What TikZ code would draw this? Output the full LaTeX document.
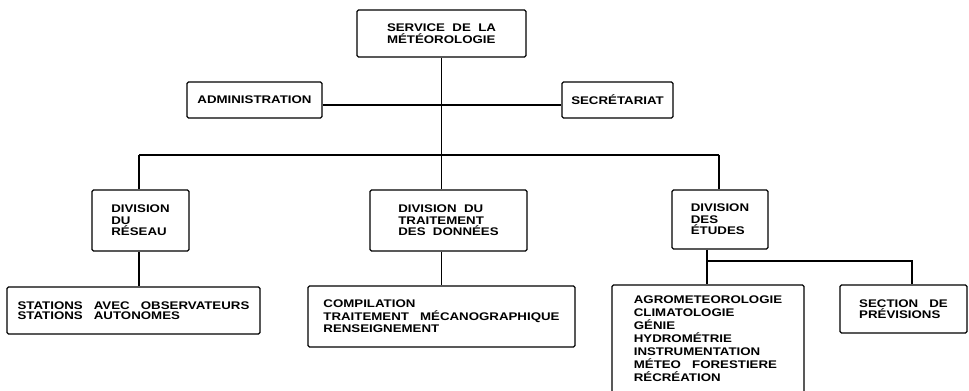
\documentclass[tikz,border=0pt]{standalone}
\usepackage{fontspec}
\newfontfamily\orgfont{Liberation Sans}[FakeStretch=1.2]
\usepackage{tikz}

\begin{document}
\begin{tikzpicture}[-,x=0.02cm,y=-0.02cm,line width=0.7pt,
	box/.style={rectangle,draw,rounded corners=0.8pt,align=left,inner sep=0pt}]
	\tikzstyle{every node}=[font=\orgfont\bfseries\fontsize{6.3}{6.6}\selectfont]
	\useasboundingbox (0,0) rectangle (969,391);
	\draw
		(441.5,33.5) node[box, minimum width=3.38cm, minimum height=0.94cm](top) {SERVICE\ \ DE\ \ LA\\MÉTÉOROLOGIE}
		(254.5,100) node[box, minimum width=2.7cm, minimum height=0.72cm](admin) {ADMINISTRATION}
		(617.5,100) node[box, minimum width=2.22cm, minimum height=0.72cm](secr) {SECRÉTARIAT}
		(140.5,220.5) node[box, minimum width=1.94cm, minimum height=1.22cm](reseau) {DIVISION\\DU\\RÉSEAU}
		(448.5,220.5) node[box, minimum width=3.14cm, minimum height=1.22cm](trait) {DIVISION\ \ DU\\TRAITEMENT\\DES\ \ DONNÉES}
		(720,219.5) node[box, minimum width=1.92cm, minimum height=1.18cm](etudes) {DIVISION\\DES\\ÉTUDES}
		(133.5,310.5) node[box, minimum width=5.06cm, minimum height=0.94cm, font=\orgfont\bfseries\fontsize{6.3}{5.8}\selectfont](stations) {STATIONS\ \ \ AVEC\ \ \ OBSERVATEURS\\STATIONS\ \ \ AUTONOMES}
		(441.5,316.5) node[box, minimum width=5.34cm, minimum height=1.22cm, font=\orgfont\bfseries\fontsize{6.3}{7.2}\selectfont](compil) {COMPILATION\\TRAITEMENT\ \ \ MÉCANOGRAPHIQUE\\RENSEIGNEMENT}
		(708,339) node[box, minimum width=3.84cm, minimum height=2.16cm, font=\orgfont\bfseries\fontsize{6.3}{7.4}\selectfont](agro) {AGROMETEOROLOGIE\\CLIMATOLOGIE\\GÉNIE\\HYDROMÉTRIE\\INSTRUMENTATION\\MÉTEO\ \ \ FORESTIERE\\RÉCRÉATION}
		(903.5,309) node[box, minimum width=2.54cm, minimum height=0.96cm](section) {SECTION\ \ \ DE\\PRÉVISIONS};
	\coordinate (busL) at (139,155);
	\coordinate (busR) at (719,155);
	\coordinate (subL) at (707,261);
	\coordinate (subR) at (912,261);
	\draw (top.south) to (top.south |- busL);
	\draw ([yshift=-0.1cm]admin.east) to ([yshift=-0.1cm]secr.west);
	\draw (busL) to (busR);
	\draw (busL) to (busL |- reseau.north);
	\draw (busL |- reseau.south) to (busL |- stations.north);
	\draw (top.south |- busL) to (top.south |- trait.north);
	\draw (top.south |- trait.south) to (top.south |- compil.north);
	\draw (busR) to (busR |- etudes.north);
	\draw (subL |- etudes.south) to (subL |- agro.north);
	\draw (subL) to (subR) to (subR |- section.north);
\end{tikzpicture}
\end{document}
